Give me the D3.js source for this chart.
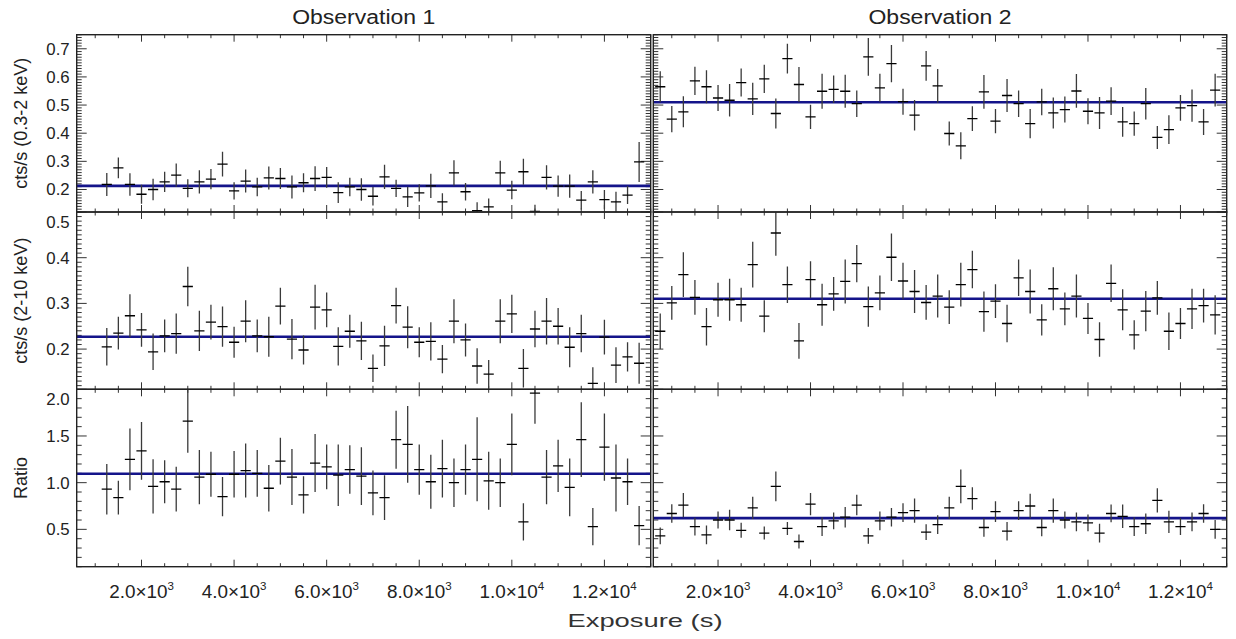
<!DOCTYPE html>
<html>
<head>
<meta charset="utf-8">
<script src="https://cdn.jsdelivr.net/npm/d3@7"></script>
<style>
  body { margin: 0; background: #fff; }
  svg { display: block; font-family: "Liberation Sans", Arial, sans-serif; }
</style>
</head>
<body>
<svg id="chart"></svg>
<script>
// ---- data ----
var obsTitles = ['Observation 1', 'Observation 2'];
var rowTitles = ['cts/s (0.3-2 keV)', 'cts/s (2-10 keV)', 'Ratio'];
var xAxisTitle = 'Exposure (s)';

var xTickVals = [2000, 4000, 6000, 8000, 10000, 12000];
var xTickMant = ['2.0', '4.0', '6.0', '8.0', '1.0', '1.2'];
var xTickExp  = ['3', '3', '3', '3', '4', '4'];

var yTickVals = [
  [0.2, 0.3, 0.4, 0.5, 0.6, 0.7],
  [0.2, 0.3, 0.4, 0.5],
  [0.5, 1.0, 1.5, 2.0]
];
var yTickLabels = [
  ['0.2', '0.3', '0.4', '0.5', '0.6', '0.7'],
  ['0.2', '0.3', '0.4', '0.5'],
  ['0.5', '1.0', '1.5', '2.0']
];

var timeObs1 = [1250,1500,1750,2000,2250,2500,2750,3000,3250,3500,3750,4000,4250,4500,4750,5000,
  5250,5500,5750,6000,6250,6500,6750,7000,7250,7500,7750,8000,8250,8500,8750,9000,9250,9500,9750,
  10000,10250,10500,10750,11000,11250,11500,11750,12000,12250,12500,12750];
var timeObs2 = [750,1000,1250,1500,1750,2000,2250,2500,2750,3000,3250,3500,3750,4000,4250,4500,4750,5000,
  5250,5500,5750,6000,6250,6500,6750,7000,7250,7500,7750,8000,8250,8500,8750,9000,9250,9500,9750,
  10000,10250,10500,10750,11000,11250,11500,11750,12000,12250,12500,12750];

var soft1 = [0.218,0.277,0.218,0.183,0.200,0.227,0.251,0.204,0.227,0.237,0.290,0.195,0.230,0.209,0.241,0.239,
  0.209,0.224,0.239,0.243,0.189,0.209,0.200,0.176,0.245,0.204,0.174,0.188,0.213,0.156,0.259,0.192,0.125,0.138,
  0.259,0.198,0.263,0.122,0.243,0.212,0.212,0.162,0.227,0.164,0.156,0.180,0.298];
var softErr1 = [0.041,0.037,0.040,0.034,0.038,0.036,0.041,0.032,0.041,0.036,0.044,0.031,0.041,0.033,0.041,0.037,
  0.041,0.034,0.044,0.037,0.037,0.033,0.040,0.033,0.043,0.031,0.036,0.031,0.043,0.031,0.045,0.031,0.030,0.030,
  0.043,0.033,0.046,0.024,0.043,0.038,0.041,0.033,0.041,0.034,0.036,0.032,0.071];

var hard1 = [0.205,0.235,0.273,0.242,0.194,0.229,0.234,0.337,0.240,0.259,0.249,0.215,0.261,0.229,0.227,0.294,
  0.222,0.198,0.292,0.286,0.206,0.239,0.218,0.158,0.207,0.295,0.248,0.215,0.217,0.178,0.261,0.220,0.163,0.145,
  0.261,0.277,0.158,0.244,0.261,0.250,0.204,0.234,0.125,0.226,0.165,0.183,0.169];
var hardErr1 = [0.041,0.036,0.047,0.037,0.040,0.036,0.044,0.043,0.044,0.038,0.044,0.034,0.046,0.036,0.044,0.040,
  0.044,0.032,0.049,0.038,0.042,0.036,0.042,0.030,0.044,0.039,0.046,0.033,0.042,0.031,0.048,0.036,0.039,0.031,
  0.048,0.042,0.042,0.040,0.051,0.040,0.044,0.041,0.035,0.038,0.039,0.032,0.045];

var ratio1 = [0.93,0.84,1.25,1.34,0.96,1.01,0.93,1.66,1.06,1.09,0.85,1.09,1.13,1.10,0.94,1.23,
  1.06,0.87,1.21,1.17,1.08,1.14,1.07,0.89,0.84,1.46,1.41,1.14,1.01,1.15,1.00,1.14,1.25,1.02,
  1.00,1.41,0.58,1.96,1.06,1.18,0.95,1.46,0.53,1.38,1.05,1.01,0.54];
var ratioErr1 = [0.27,0.18,0.33,0.31,0.29,0.23,0.24,0.34,0.29,0.24,0.21,0.25,0.29,0.25,0.25,0.25,
  0.30,0.20,0.31,0.24,0.33,0.26,0.31,0.24,0.24,0.31,0.41,0.27,0.29,0.31,0.26,0.27,0.45,0.31,
  0.26,0.33,0.20,0.33,0.29,0.28,0.31,0.40,0.20,0.36,0.36,0.25,0.21];

var soft2 = [0.565,0.450,0.476,0.586,0.565,0.525,0.517,0.580,0.522,0.593,0.470,0.665,0.573,0.458,0.549,0.556,
  0.549,0.505,0.671,0.561,0.647,0.512,0.464,0.639,0.568,0.399,0.355,0.452,0.547,0.443,0.534,0.505,0.434,0.511,
  0.472,0.484,0.550,0.478,0.472,0.514,0.440,0.434,0.505,0.385,0.413,0.490,0.498,0.440,0.553];
var softErr2 = [0.055,0.047,0.055,0.050,0.059,0.046,0.058,0.050,0.057,0.050,0.053,0.053,0.062,0.043,0.062,0.049,
  0.059,0.047,0.067,0.050,0.066,0.046,0.054,0.053,0.060,0.043,0.048,0.044,0.060,0.043,0.059,0.047,0.052,0.047,
  0.055,0.046,0.060,0.046,0.057,0.049,0.053,0.043,0.056,0.041,0.051,0.046,0.057,0.046,0.058];

var hard2 = [0.239,0.301,0.363,0.313,0.249,0.308,0.308,0.297,0.385,0.272,0.454,0.341,0.218,0.352,0.297,0.321,
  0.348,0.387,0.293,0.323,0.401,0.349,0.326,0.302,0.316,0.292,0.341,0.374,0.282,0.305,0.256,0.356,0.326,0.264,
  0.332,0.288,0.316,0.267,0.221,0.344,0.286,0.231,0.283,0.312,0.239,0.256,0.288,0.295,0.275];
var hardErr2 = [0.039,0.037,0.049,0.038,0.041,0.037,0.046,0.037,0.050,0.035,0.050,0.040,0.039,0.040,0.046,0.037,
  0.048,0.041,0.044,0.038,0.052,0.040,0.047,0.038,0.047,0.037,0.048,0.041,0.044,0.037,0.041,0.040,0.048,0.034,
  0.047,0.036,0.047,0.034,0.038,0.041,0.045,0.032,0.044,0.037,0.041,0.034,0.044,0.037,0.043];

var ratio2 = [0.43,0.67,0.76,0.53,0.44,0.60,0.60,0.49,0.73,0.46,0.96,0.51,0.37,0.77,0.53,0.59,
  0.63,0.76,0.43,0.59,0.63,0.68,0.70,0.47,0.55,0.73,0.96,0.83,0.52,0.69,0.48,0.70,0.75,0.52,
  0.70,0.60,0.58,0.57,0.46,0.67,0.64,0.53,0.56,0.81,0.58,0.53,0.58,0.67,0.50];
var ratioErr2 = [0.09,0.10,0.13,0.095,0.10,0.09,0.11,0.08,0.12,0.07,0.16,0.07,0.075,0.12,0.10,0.09,
  0.11,0.11,0.085,0.10,0.10,0.10,0.13,0.085,0.10,0.12,0.18,0.12,0.10,0.11,0.10,0.10,0.13,0.095,
  0.13,0.09,0.10,0.09,0.10,0.095,0.125,0.10,0.11,0.13,0.12,0.09,0.10,0.10,0.10];

var meanObs1 = [0.213, 0.227, 1.095];
var meanObs2 = [0.51, 0.31, 0.62];

// ---- layout ----
var W = 1236, H = 639;
var colX = [[76.7, 650.7], [653.3, 1226.7]];
var rowY = [[34.7, 212], [212, 389.3], [389.3, 566.7]];
var xDomain = [600, 13000];
var yDomains = [[0.12, 0.75], [0.112, 0.5], [0.1, 2.0]];
var yMinorStep = [0.01, 0.01, 0.1];
var binHalf = 110;
var stretch = 1.05;

var svg = d3.select('#chart').attr('width', W).attr('height', H);

var cols = [
  { t: timeObs1, v: [soft1, hard1, ratio1], e: [softErr1, hardErr1, ratioErr1], m: meanObs1 },
  { t: timeObs2, v: [soft2, hard2, ratio2], e: [softErr2, hardErr2, ratioErr2], m: meanObs2 }
];

cols.forEach(function (col, ci) {
  var x0 = colX[ci][0], x1 = colX[ci][1];
  var x = d3.scaleLinear().domain(xDomain).range([x0, x1]);

  // column title
  svg.append('text')
      .attr('transform', 'translate(' + (x0 + x1) / 2 + ',24)')
      .attr('text-anchor', 'middle')
      .attr('font-size', 20)
      .attr('fill', '#222')
      .attr('textLength', 143)
      .attr('lengthAdjust', 'spacingAndGlyphs')
      .text(obsTitles[ci]);

  rowY.forEach(function (ry, ri) {
    var y0 = ry[0], y1 = ry[1];
    var y = d3.scaleLinear().domain(yDomains[ri]).range([y1, y0]);
    var g = svg.append('g');

    var clipId = 'clip' + ci + ri;
    g.append('clipPath').attr('id', clipId)
      .append('rect').attr('x', x0).attr('y', y0).attr('width', x1 - x0).attr('height', y1 - y0);

    // minor & major y ticks on both sides, pointing inward
    var d = yDomains[ri], st = yMinorStep[ri];
    var minors = d3.range(Math.ceil(d[0] / st - 1e-6) * st, d[1] + 1e-6, st);
    var ticks = g.append('g').attr('stroke', '#333').attr('stroke-width', 1);
    minors.forEach(function (v) {
      var major = yTickVals[ri].some(function (m) { return Math.abs(m - v) < 1e-6; });
      var len = major ? 10 : 5;
      ticks.append('line').attr('x1', x0).attr('x2', x0 + len).attr('y1', y(v)).attr('y2', y(v));
      ticks.append('line').attr('x1', x1).attr('x2', x1 - len).attr('y1', y(v)).attr('y2', y(v));
    });

    // x ticks top & bottom
    d3.range(1000, 13001, 500).forEach(function (v) {
      var major = xTickVals.indexOf(v) >= 0;
      var len = major ? 7 : 3.5;
      ticks.append('line').attr('x1', x(v)).attr('x2', x(v)).attr('y1', y1).attr('y2', y1 - len);
      ticks.append('line').attr('x1', x(v)).attr('x2', x(v)).attr('y1', y0).attr('y2', y0 + len);
    });

    // mean line
    g.append('line')
      .attr('x1', x0).attr('x2', x1)
      .attr('y1', y(col.m[ri])).attr('y2', y(col.m[ri]))
      .attr('stroke', '#14148a').attr('stroke-width', 2.6);

    // error-bar crosses
    var pts = col.t.map(function (t, i) { return { t: t, v: col.v[ri][i], e: col.e[ri][i] }; });
    var marks = g.append('g').attr('clip-path', 'url(#' + clipId + ')');
    marks.selectAll('line.ev').data(pts).enter().append('line')
      .attr('class', 'ev')
      .attr('x1', function (p) { return x(p.t); }).attr('x2', function (p) { return x(p.t); })
      .attr('y1', function (p) { return y(p.v - p.e); }).attr('y2', function (p) { return y(p.v + p.e); })
      .attr('stroke', '#3a3a3a').attr('stroke-width', 1.3);
    marks.selectAll('line.eh').data(pts).enter().append('line')
      .attr('class', 'eh')
      .attr('x1', function (p) { return x(p.t - binHalf); }).attr('x2', function (p) { return x(p.t + binHalf); })
      .attr('y1', function (p) { return y(p.v); }).attr('y2', function (p) { return y(p.v); })
      .attr('stroke', '#000').attr('stroke-width', 1.3);

    // frame
    g.append('rect')
      .attr('x', x0).attr('y', y0).attr('width', x1 - x0).attr('height', y1 - y0)
      .attr('fill', 'none').attr('stroke', '#222').attr('stroke-width', 1.4);

    // y tick labels + title only on the left column
    if (ci === 0) {
      yTickVals[ri].forEach(function (v, k) {
        var cy = Math.max(y(v), y0 + 10);
        g.append('text')
          .attr('transform', 'translate(' + (x0 - 7) + ',' + (cy + 6) + ') scale(' + stretch + ',1)')
          .attr('text-anchor', 'end')
          .attr('font-size', 16)
          .attr('fill', '#222')
          .text(yTickLabels[ri][k]);
      });
      svg.append('text')
        .attr('transform', 'translate(27,' + (y0 + y1) / 2 + ') rotate(-90)')
        .attr('text-anchor', 'middle')
        .attr('font-size', 18)
        .attr('fill', '#222')
        .text(rowTitles[ri]);
    }

    // x tick labels under bottom row
    if (ri === rowY.length - 1) {
      xTickVals.forEach(function (v, k) {
        var t = g.append('text')
          .attr('transform', 'translate(' + x(v) + ',' + (y1 + 31) + ') scale(' + stretch + ',1)')
          .attr('text-anchor', 'middle')
          .attr('font-size', 18)
          .attr('fill', '#222');
        t.append('tspan').text(xTickMant[k] + '\u00d710');
        t.append('tspan').attr('dy', -8).attr('font-size', 11).text(xTickExp[k]);
      });
    }
  });
});

svg.append('text')
  .attr('x', 645).attr('y', 627)
  .attr('text-anchor', 'middle')
  .attr('font-size', 19)
  .attr('fill', '#333')
  .attr('textLength', 155)
  .attr('lengthAdjust', 'spacingAndGlyphs')
  .text(xAxisTitle);
</script>
</body>
</html>
